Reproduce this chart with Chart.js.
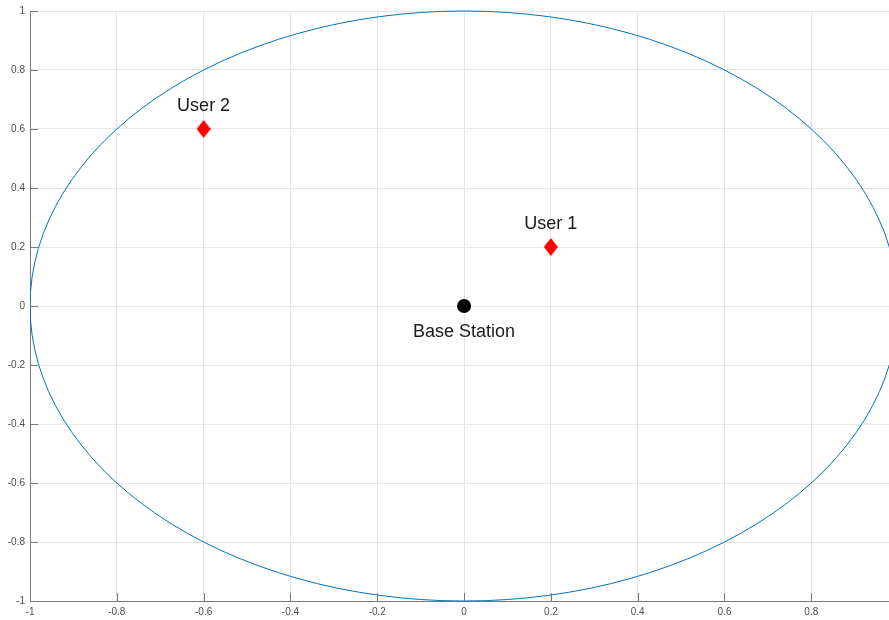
<!DOCTYPE html>
<html lang="en">
<head>
  <meta charset="UTF-8" />
  <title>Base Station and Users</title>
  <script src="https://cdn.jsdelivr.net/npm/chart.js"></script>
  <style>
    body { margin: 0; background: #fff; overflow: hidden; }
    #wrap { width: 889px; height: 620px; }
  </style>
</head>
<body>
  <div id="wrap"><canvas id="cellChart" width="889" height="620"></canvas></div>

  <script>
    // data
    const stationName = ['Base Station'];
    const stationX = [0];
    const stationY = [0];
    const userNames = ['User 1', 'User 2'];
    const userX = [0.2, -0.6];
    const userY = [0.2, 0.6];
    const coverageCenter = [0, 0];
    const coverageRadius = 1;
    const xTicks = [-1, -0.8, -0.6, -0.4, -0.2, 0, 0.2, 0.4, 0.6, 0.8];
    const yTicks = [-1, -0.8, -0.6, -0.4, -0.2, 0, 0.2, 0.4, 0.6, 0.8, 1];
    const xRange = [-1, 0.979];
    const yRange = [-1, 1];

    const axisColor = '#777';
    const fmt = v => String(Math.round(v * 10) / 10);

    // tall red diamond marker
    function diamond(w, h, color) {
      const c = document.createElement('canvas');
      c.width = w; c.height = h;
      const g = c.getContext('2d');
      g.fillStyle = color;
      g.beginPath();
      g.moveTo(w / 2, 0); g.lineTo(w, h / 2); g.lineTo(w / 2, h); g.lineTo(0, h / 2);
      g.closePath(); g.fill();
      return c;
    }

    // coverage circle, drawn through the scales and clipped to the plot
    const circlePlugin = {
      id: 'coverage',
      beforeDatasetsDraw(chart) {
        const { ctx, chartArea, scales: { x, y } } = chart;
        const cx = x.getPixelForValue(coverageCenter[0]);
        const cy = y.getPixelForValue(coverageCenter[1]);
        const rx = x.getPixelForValue(coverageCenter[0] + coverageRadius) - cx;
        const ry = cy - y.getPixelForValue(coverageCenter[1] + coverageRadius);
        ctx.save();
        ctx.beginPath();
        ctx.rect(chartArea.left, chartArea.top - 1, chartArea.width + 1, chartArea.height + 2);
        ctx.clip();
        ctx.beginPath();
        ctx.ellipse(cx, cy, rx, ry, 0, 0, Math.PI * 2);
        ctx.strokeStyle = '#0072BD';
        ctx.lineWidth = 1;
        ctx.stroke();
        ctx.restore();
      }
    };

    // inward tick marks like MATLAB axes
    const tickPlugin = {
      id: 'innerTicks',
      afterDraw(chart) {
        const { ctx, chartArea, scales: { x, y } } = chart;
        ctx.save();
        ctx.strokeStyle = axisColor;
        ctx.lineWidth = 1;
        ctx.beginPath();
        xTicks.forEach(v => {
          const px = Math.round(x.getPixelForValue(v)) + 0.5;
          ctx.moveTo(px, chartArea.bottom);
          ctx.lineTo(px, chartArea.bottom - 8);
        });
        yTicks.forEach(v => {
          const py = Math.round(y.getPixelForValue(v)) + 0.5;
          ctx.moveTo(chartArea.left, py);
          ctx.lineTo(chartArea.left + 8, py);
        });
        ctx.stroke();
        ctx.restore();
      }
    };

    // text labels next to each marker
    const labelPlugin = {
      id: 'pointLabels',
      afterDatasetsDraw(chart) {
        const { ctx } = chart;
        ctx.save();
        ctx.font = '18px "Liberation Sans", Arial, sans-serif';
        ctx.fillStyle = '#1a1a1a';
        ctx.textAlign = 'center';
        ctx.textBaseline = 'alphabetic';
        chart.getDatasetMeta(0).data.forEach((pt, i) => {
          ctx.fillText(stationName[i], pt.x, pt.y + 31);
        });
        chart.getDatasetMeta(1).data.forEach((pt, i) => {
          ctx.fillText(userNames[i], pt.x, pt.y - 18);
        });
        ctx.restore();
      }
    };

    const tickFont = { family: '"Liberation Sans", Arial, sans-serif', size: 10 };

    new Chart(document.getElementById('cellChart'), {
      type: 'scatter',
      data: {
        datasets: [
          {
            label: 'Base Station',
            data: stationX.map((v, i) => ({ x: v, y: stationY[i] })),
            pointStyle: 'circle',
            pointRadius: 7,
            backgroundColor: '#000',
            borderColor: '#000',
            borderWidth: 0
          },
          {
            label: 'Users',
            data: userX.map((v, i) => ({ x: v, y: userY[i] })),
            pointStyle: diamond(14, 18, '#ff0000'),
            pointRadius: 9,
            backgroundColor: '#ff0000'
          }
        ]
      },
      options: {
        responsive: false,
        animation: false,
        layout: { autoPadding: false, padding: { top: 11, right: 0, left: 0, bottom: 0 } },
        plugins: { legend: { display: false }, tooltip: { enabled: false } },
        scales: {
          x: {
            type: 'linear',
            min: xRange[0],
            max: xRange[1],
            afterBuildTicks: s => { s.ticks = xTicks.map(v => ({ value: v })); },
            afterFit: s => { s.height = 19; s.paddingLeft = 0; s.paddingRight = 0; },
            grid: { color: '#e6e6e6', drawTicks: false },
            border: { color: axisColor, width: 1 },
            ticks: { padding: 5, color: '#4d4d4d', font: tickFont, maxRotation: 0, callback: fmt }
          },
          y: {
            type: 'linear',
            min: yRange[0],
            max: yRange[1],
            afterBuildTicks: s => { s.ticks = yTicks.map(v => ({ value: v })); },
            afterFit: s => { s.width = 30; s.paddingTop = 0; s.paddingBottom = 0; },
            grid: { color: '#e6e6e6', drawTicks: false },
            border: { color: axisColor, width: 1 },
            ticks: { padding: 5, color: '#4d4d4d', font: tickFont, callback: fmt }
          }
        }
      },
      plugins: [circlePlugin, tickPlugin, labelPlugin]
    });
  </script>
</body>
</html>
